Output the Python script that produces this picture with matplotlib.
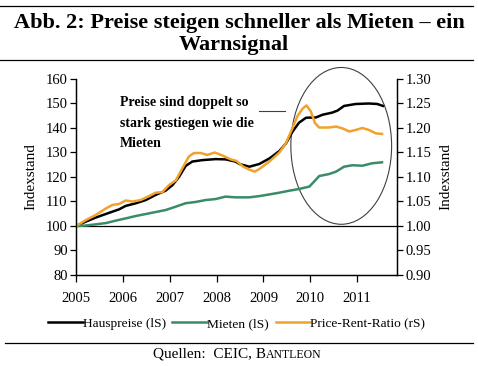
import matplotlib.pyplot as plt
import numpy as np
from matplotlib.patches import Ellipse

plt.rcParams["font.family"] = ["Liberation Serif", "DejaVu Serif"]

# Hauspreise (left scale, index 2005 = 100)
haus_t = [2005.0, 2005.21, 2005.43, 2005.71, 2005.92, 2006.06, 2006.28, 2006.49,
          2006.70, 2006.91, 2007.06, 2007.2, 2007.34, 2007.48, 2007.7, 2007.98,
          2008.19, 2008.4, 2008.49, 2008.70, 2008.91, 2009.13, 2009.34, 2009.48,
          2009.62, 2009.76, 2009.91, 2010.12, 2010.26, 2010.47, 2010.58, 2010.72,
          2010.97, 2011.25, 2011.43, 2011.55]
haus = [100, 101.8, 103.5, 105.4, 106.8, 108.2, 109.3, 110.6,
        112.7, 114.4, 116.7, 120.1, 124.5, 126.3, 126.9, 127.3,
        127.2, 126.3, 125.3, 124.2, 125.3, 127.6, 130.6, 133.7,
        138.5, 142.2, 144.2, 144.3, 145.4, 146.3, 147.1, 149.0,
        149.8, 150.0, 149.8, 149.0]

# Mieten (left scale)
miete_t = [2005.0, 2005.21, 2005.43, 2005.64, 2005.85, 2006.06, 2006.28, 2006.49,
           2006.70, 2006.91, 2007.13, 2007.34, 2007.55, 2007.77, 2007.98, 2008.19,
           2008.4, 2008.70, 2008.91, 2009.13, 2009.34, 2009.55, 2009.76, 2009.98,
           2010.08, 2010.19, 2010.40, 2010.55, 2010.72, 2010.90, 2011.11, 2011.32,
           2011.53]
miete = [100, 100.2, 100.7, 101.2, 102.2, 103.1, 104.1, 104.9,
         105.7, 106.5, 107.9, 109.3, 109.8, 110.6, 111.0, 112.0,
         111.7, 111.7, 112.2, 112.9, 113.6, 114.4, 115.1, 116.1,
         118.1, 120.4, 121.2, 122.2, 124.2, 124.8, 124.6, 125.6,
         126.0]

# Price-Rent-Ratio (right scale)
ratio_t = [2005.0, 2005.21, 2005.43, 2005.64, 2005.78, 2005.92, 2006.06, 2006.21,
           2006.38, 2006.56, 2006.70, 2006.84, 2006.99, 2007.13, 2007.27, 2007.41,
           2007.52, 2007.66, 2007.80, 2007.96, 2008.12, 2008.30, 2008.42, 2008.57,
           2008.70, 2008.81, 2008.91, 2009.13, 2009.34, 2009.48, 2009.62, 2009.73,
           2009.84, 2009.92, 2010.01, 2010.10, 2010.19, 2010.40, 2010.55, 2010.69,
           2010.83, 2010.97, 2011.11, 2011.25, 2011.40, 2011.53]
ratio = [1.000, 1.012, 1.023, 1.036, 1.043, 1.045, 1.052, 1.050,
         1.053, 1.061, 1.068, 1.069, 1.084, 1.093, 1.118, 1.142,
         1.149, 1.149, 1.145, 1.150, 1.144, 1.136, 1.133, 1.121,
         1.115, 1.111, 1.116, 1.132, 1.150, 1.169, 1.200, 1.225,
         1.240, 1.246, 1.234, 1.210, 1.201, 1.201, 1.203, 1.199,
         1.193, 1.196, 1.200, 1.196, 1.189, 1.188]

years = [2005, 2006, 2007, 2008, 2009, 2010, 2011]

green = "#3a8c68"
orange = "#f0a22a"

fig = plt.figure(figsize=(4.78, 3.66), dpi=100)
ax = fig.add_axes([76 / 478, 1 - 275 / 366, 321 / 478, 196 / 366])
ax2 = ax.twinx()

h1, = ax.plot(haus_t, haus, color="black", lw=1.8, label="Hauspreise (lS)")
h2, = ax.plot(miete_t, miete, color=green, lw=1.8, label="Mieten (lS)")
h3, = ax2.plot(ratio_t, ratio, color=orange, lw=1.8, label="Price-Rent-Ratio (rS)")
ax.axhline(100, color="black", lw=0.9, zorder=1)

ax.set_xlim(2005, 2011.85)
ax.set_ylim(80, 160)
ax.set_yticks(np.arange(80, 161, 10))
ax2.set_ylim(0.9, 1.3)
ax2.set_yticks(np.arange(0.9, 1.31, 0.05))
ax2.set_yticklabels([f"{v:.2f}" for v in np.arange(0.9, 1.31, 0.05)])
ax.set_xticks(years)
ax.set_xticklabels([str(y) for y in years])

for a in (ax, ax2):
    a.spines["top"].set_visible(False)
    for s in a.spines.values():
        s.set_linewidth(0.9)
    a.tick_params(direction="out", length=4, width=0.9, labelsize=10.5, pad=2)
ax.tick_params(axis="x", length=5, pad=7)

ax.set_ylabel("Indexstand", fontsize=11, labelpad=6)
ax2.set_ylabel("Indexstand", fontsize=11, rotation=90, labelpad=6)

# highlight ellipse and comment
ell = Ellipse((2010.66, 132.7), 2.15, 64, fill=False, edgecolor="#404040", lw=0.8,
              clip_on=False)
ax.add_patch(ell)
ax.text(2005.93, 153.0, "Preise sind doppelt so\nstark gestiegen wie die\nMieten",
        fontsize=10, fontweight="bold", va="top", ha="left", linespacing=1.75)
ax.plot([2008.9, 2009.45], [146.9, 146.9], color="#404040", lw=0.8)

leg = fig.legend(handles=[h1, h2, h3], loc="center", bbox_to_anchor=(0.495, 1 - 324 / 366),
                 ncol=3, frameon=False, fontsize=9.6, handlelength=2.6,
                 handletextpad=0.0, columnspacing=0.5, borderaxespad=0)

# title and rules
fig.text(0.5, 1 - 23 / 366, "Abb. 2: Preise steigen schneller als Mieten – ein",
         ha="center", va="center", fontsize=16, fontweight="bold")
fig.text(0.49, 1 - 45 / 366, "Warnsignal", ha="center", va="center",
         fontsize=16, fontweight="bold")
fig.add_artist(plt.Line2D([0, 473 / 478], [1 - 6 / 366] * 2, color="black", lw=0.9))
fig.add_artist(plt.Line2D([0, 473 / 478], [1 - 60 / 366] * 2, color="black", lw=0.9))
fig.add_artist(plt.Line2D([5 / 478, 473 / 478], [1 - 343 / 366] * 2, color="black", lw=0.9))

fig.text(266 / 478, 1 - 354 / 366, "Quellen:  CEIC, B", ha="right", va="center", fontsize=11)
fig.text(266 / 478, 1 - 354.5 / 366, "ANTLEON", ha="left", va="center", fontsize=8.5)

fig.savefig("out.png", dpi=100)
